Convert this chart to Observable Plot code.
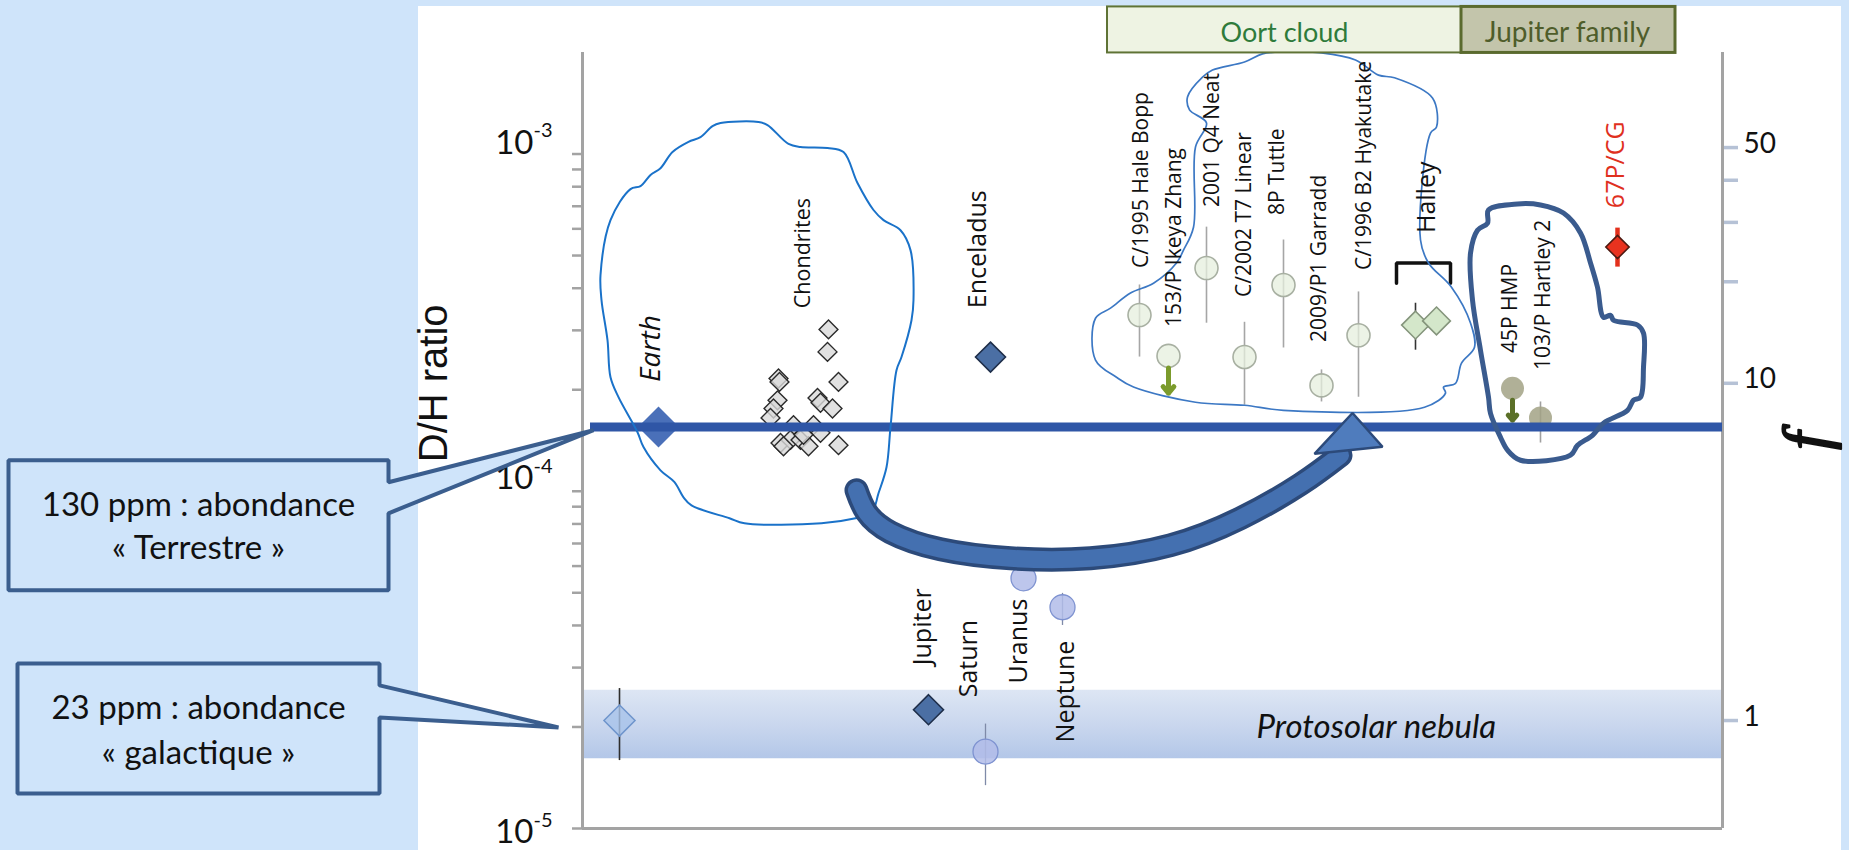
<!DOCTYPE html>
<html><head><meta charset="utf-8">
<script src="https://cdn.jsdelivr.net/npm/d3@7"></script>
<script src="https://cdn.jsdelivr.net/npm/@observablehq/plot@0.6"></script>
<style>
html,body{margin:0;padding:0;background:#cfe4fa;overflow:hidden;}
#chart svg{display:block;max-width:none!important;background:linear-gradient(#fff,#fff) 418px 6px/1423px 850px no-repeat!important;}
</style></head><body><div id="chart"></div>
<script>
// ---------- DATA ----------
// protosolar D/H (f = 1)
const fRef = 2.09e-5;
const earthDH = 1.55e-4;

const objNames = ["Protosolar","Earth","Enceladus","Jupiter","Saturn","Uranus","Neptune",
  "C/1995 Hale Bopp","153/P Ikeya Zhang","2001 Q4 Neat","C/2002 T7 Linear","8P Tuttle",
  "2009/P1 Garradd","C/1996 B2 Hyakutake","Halley a","Halley b","45P HMP","103/P Hartley 2","67P/CG"];
const objX   = [1.85, 3.8, 20.4, 17.3, 20.15, 22.05, 24.0, 27.85, 29.3, 31.2, 33.1, 35.05, 36.95, 38.8, 41.65, 42.7, 46.5, 47.9, 51.75];
const objDH  = [2.09e-5, 1.55e-4, 2.50e-4, 2.25e-5, 1.69e-5, 5.52e-5, 4.53e-5, 3.33e-4, 2.52e-4, 4.59e-4, 2.50e-4, 4.09e-4, 2.06e-4, 2.90e-4, 3.11e-4, 3.20e-4, 2.02e-4, 1.65e-4, 5.30e-4];
const objLow = [1.59e-5, null, null, null, 1.34e-5, null, 4.00e-5, 2.50e-4, null, 3.15e-4, 1.80e-4, 2.66e-4, 1.84e-4, 1.90e-4, 2.62e-4, null, null, 1.39e-4, 4.62e-4];
const objHigh= [2.60e-5, null, null, null, 2.04e-5, null, 4.98e-5, 4.09e-4, null, 6.07e-4, 3.17e-4, 5.56e-4, 2.29e-4, 3.90e-4, 3.61e-4, null, null, 1.84e-4, 6.03e-4];
const objGroup = ["proto","earth","moon","moon","giant","giant","giant","oort","oort","oort","oort","oort","oort","oort","halley","halley","jfc","jfc","rosetta"];

// upper limits (arrows): x, from, to
const limitX    = [29.3, 46.5];
const limitFrom = [2.32e-4, 1.862e-4];
const limitTo   = [1.954e-4, 1.625e-4];
const limitKind = ["oort","jfc"];

// chondrites
const chondX  = [12.3, 12.25, 12.8, 9.8, 9.85, 9.75, 9.55, 9.4, 11.75, 11.9, 12.5, 10.55, 11.55, 9.9, 10.4, 10.9, 11.3, 11.9, 12.8, 11.05, 10.05];
const chondDH = [3.02e-4, 2.59e-4, 2.11e-4, 2.16e-4, 2.11e-4, 1.86e-4, 1.76e-4, 1.65e-4, 1.89e-4, 1.83e-4, 1.76e-4, 1.57e-4, 1.57e-4, 1.39e-4, 1.42e-4, 1.42e-4, 1.36e-4, 1.49e-4, 1.37e-4, 1.47e-4, 1.36e-4];

// protosolar nebula band
const nebulaLow = 1.61e-5, nebulaHigh = 2.57e-5;

// labels (x, D/H at the start of the rotated text)
const labelText = ["Earth","Chondrites","Enceladus","Jupiter","Saturn","Uranus","Neptune","C/1995 Hale Bopp","153/P Ikeya Zhang","2001 Q4 Neat","C/2002 T7 Linear","8P Tuttle","2009/P1 Garradd","C/1996 B2 Hyakutake","Halley","45P HMP","103/P Hartley 2","67P/CG"];
const labelX  = [3.45, 11.05, 19.75, 17.0, 19.3, 21.8, 24.15, 27.95, 29.6, 31.5, 33.1, 34.75, 36.85, 39.1, 42.2, 46.4, 48.05, 51.65];
const labelDH = [2.11e-4, 3.49e-4, 3.49e-4, 3.05e-5, 2.45e-5, 2.69e-5, 1.80e-5, 4.59e-4, 3.07e-4, 6.96e-4, 3.77e-4, 6.59e-4, 2.77e-4, 4.53e-4, 5.83e-4, 2.57e-4, 2.29e-4, 6.91e-4];
const labelKind = ["earth","chond","encel","planet","planet","planet","planet","comet","comet","comet","comet","comet","comet","comet","halley","comet","comet","rosetta"];

// axes
const yTickMant = [1,2,3,4,5,6,7,8,9];
const yTickDecades = [-5,-4];
const yLabelBase = "10";
const yLabelExp = ["-5","-4","-3"];
const yLabelDH = [0.973e-5, 1.093e-4, 1.078e-3];
const fTicks = [1, 10, 20, 30, 40, 50];
const fTickLabels = ["1","10","","","","50"];

// family boxes
const familyName = ["Oort cloud","Jupiter family"];
const familyX1 = [26.25, 43.95];
const familyX2 = [43.95, 54.65];
const familyLow = 1.994e-3, familyHigh = 2.73e-3, familyTextDH = 2.286e-3;
const familyTextX = [35.1, 49.25];

// hand-drawn outlines: [x, log10(D/H)]
const loopEarth = [[0.95,-3.433],[0.9,-3.359],[1.4,-3.196],[2.4,-3.104],[2.9,-3.095],[3.4,-3.062],[3.9,-3.042],[4.5,-2.994],[5.3,-2.964],[5.9,-2.950],[6.5,-2.917],[6.9,-2.908],[8.8,-2.905],[9.25,-2.914],[10.3,-2.970],[10.9,-2.979],[12.25,-2.982],[13.05,-2.994],[13.75,-3.086],[14.55,-3.166],[15.05,-3.196],[15.9,-3.226],[16.4,-3.285],[16.55,-3.433],[16.45,-3.493],[15.95,-3.602],[15.7,-3.641],[15.4,-3.810],[15.2,-3.929],[14.8,-4.006],[14.45,-4.065],[13.65,-4.080],[11.95,-4.095],[8.1,-4.095],[7.35,-4.080],[5.45,-4.042],[5.05,-4.018],[4.6,-3.973],[3.9,-3.938],[3.05,-3.869],[2.75,-3.825],[1.8,-3.721],[1.4,-3.662],[1.25,-3.552]];
const loopOort = [[30.25,-2.831],[31.0,-2.772],[31.5,-2.751],[33.1,-2.727],[34.0,-2.703],[35.05,-2.697],[36.95,-2.700],[38.65,-2.721],[39.8,-2.766],[40.6,-2.774],[42.5,-2.834],[42.7,-2.920],[42.4,-2.938],[41.9,-3.255],[42.3,-3.323],[43.45,-3.395],[44.4,-3.501],[44.6,-3.573],[43.95,-3.620],[43.65,-3.680],[43.05,-3.691],[43.15,-3.709],[42.1,-3.751],[35.05,-3.760],[33.1,-3.745],[30.65,-3.736],[27.55,-3.691],[26.7,-3.662],[25.65,-3.611],[25.65,-3.487],[26.4,-3.457],[27.4,-3.412],[28.55,-3.383],[29.7,-3.323],[30.05,-3.285],[30.55,-3.217],[30.65,-2.979],[31.2,-2.908],[30.35,-2.869]];
const loopJF = [[45.3,-3.166],[46.75,-3.148],[47.9,-3.151],[49.05,-3.175],[49.9,-3.234],[50.4,-3.323],[50.75,-3.395],[51.05,-3.484],[51.4,-3.478],[51.55,-3.493],[52.75,-3.507],[53.05,-3.531],[53.05,-3.632],[52.9,-3.721],[52.55,-3.730],[52.25,-3.760],[51.05,-3.798],[50.5,-3.834],[49.75,-3.864],[49.4,-3.893],[46.9,-3.908],[46.25,-3.878],[45.9,-3.840],[45.4,-3.769],[45.3,-3.721],[44.9,-3.582],[44.5,-3.433],[44.4,-3.294],[44.75,-3.226],[45.25,-3.205]];
const arrowShaft = [[13.7,-3.997],[14.2,-4.0623],[15.4,-4.1217],[17.9,-4.1721],[21.4,-4.1988],[25.4,-4.1988],[29.4,-4.1602],[32.9,-4.0801],[35.9,-3.9792],[37.9,-3.8932]];
const arrowHead = [[36.6,-3.889],[38.5,-3.768],[40.0,-3.868]];

// callouts
const calloutText = [["130 ppm : abondance","« Terrestre »"],["23 ppm : abondance","« galactique »"]];
const calloutShape = [
  [[-28.7,-3.908],[-9.7,-3.908],[-9.7,-3.9733],[0.55,-3.819],[-9.7,-4.0653],[-9.7,-4.2938],[-28.7,-4.2938]],
  [[-28.25,-4.5104],[-10.15,-4.5104],[-10.15,-4.5757],[-1.2,-4.7003],[-10.15,-4.6706],[-10.15,-4.8961],[-28.25,-4.8961]]
];
const calloutTextX = [-19.2, -19.2];
const calloutTextE = [[-4.0415,-4.1691],[-4.6439,-4.7774]];

// ---------- STYLES ----------
const groupStyle = {
  proto:  {symbol:"diamond2", r:14,  fill:"#a7c3ea", fillOpacity:0.8, stroke:"#6f95cc", strokeWidth:1.5, bar:"#2e2e2e", barW:1.6},
  earth:  {symbol:"diamond2", r:18.5,fill:"#4a70b9", fillOpacity:1, stroke:"none", strokeWidth:0},
  moon:   {symbol:"diamond2", r:13.5,fill:"#4b6fa4", fillOpacity:1, stroke:"#1e2e4a", strokeWidth:1.6},
  giant:  {symbol:"circle",   r:12.5,fill:"#b1bce9", fillOpacity:0.85, stroke:"#7e92d0", strokeWidth:1.3, bar:"#7f8aa8", barW:1.3},
  oort:   {symbol:"circle",   r:11.5,fill:"#e6efdd", fillOpacity:0.75, stroke:"#a8b0a2", strokeWidth:1.6, bar:"#a6a6a6", barW:1.6},
  halley: {symbol:"diamond2", r:12.5,fill:"#d4e7ca", fillOpacity:1, stroke:"#85957c", strokeWidth:1.6, bar:"#333333", barW:1.6},
  jfc:    {symbol:"circle",   r:11.5,fill:"#a2a285", fillOpacity:0.85, stroke:"none", strokeWidth:0, bar:"#a0a0a0", barW:1.6},
  rosetta:{symbol:"diamond2", r:10.5,fill:"#e8321f", fillOpacity:1, stroke:"#4d1a12", strokeWidth:1.6, bar:"#e3301c", barW:4.5}
};
const limitColor = {oort:"#7b9b2c", jfc:"#5b7028"};
const labelStyle = {
  earth:  {fontSize:28, fontStyle:"italic"},
  chond:  {fontSize:21.5},
  encel:  {fontSize:25},
  planet: {fontSize:25},
  comet:  {fontSize:21},
  halley: {fontSize:25},
  rosetta:{fontSize:25, fill:"#e0301e"}
};

// ---------- BUILD ----------
const objects = objNames.map((name, i) => ({name, x: objX[i], dh: objDH[i], lo: objLow[i], hi: objHigh[i], group: objGroup[i]}));
const chondrites = chondX.map((x, i) => ({x, dh: chondDH[i]}));
const labels = labelText.map((text, i) => ({text, x: labelX[i], dh: labelDH[i], kind: labelKind[i]}));
const limits = limitX.map((x, i) => ({x, y1: limitFrom[i], y2: limitTo[i], kind: limitKind[i]}));
const toPts = arr => arr.map(([x, e]) => ({x, dh: 10 ** e}));
const yTicks = yTickDecades.flatMap(e => yTickMant.map(m => m * 10 ** e)).concat([1e-3]);
const families = familyName.map((name, i) => ({name, x1: familyX1[i], x2: familyX2[i], tx: familyTextX[i]}));

const marks = [];
// nebula band
marks.push(Plot.rect([{x1: 0, x2: 57}], {x1: "x1", x2: "x2", y1: () => nebulaLow, y2: () => nebulaHigh, fill: "url(#nebGrad)"}));
marks.push(Plot.text([{x: 33.7, dh: 2.0e-5}], {x: "x", y: "dh", text: () => "Protosolar nebula", textAnchor: "start", fontSize: 33, fontStyle: "italic", fontFamily: "Lato, sans-serif", fill: "#111"}));
// frame
marks.push(Plot.axisY(yTicks, {anchor: "left", tickSize: 10, tickFormat: () => "", stroke: "#a3a3a3", strokeWidth: 2.5}));
marks.push(Plot.axisY(fTicks.map(f => f * fRef), {anchor: "right", tickSize: 15, tickFormat: () => "", stroke: "#b6c2d6", strokeWidth: 3.5}));
marks.push(Plot.ruleX([0, 57], {stroke: "#a3a3a3", strokeWidth: 3}));
marks.push(Plot.ruleY([1e-5], {stroke: "#a3a3a3", strokeWidth: 3}));
// tick labels
marks.push(Plot.text(yLabelDH, {x: () => -2.45, y: d => d, text: () => yLabelBase, textAnchor: "end", fontSize: 33, fontFamily: "Lato, sans-serif", fill: "#111"}));
marks.push(Plot.text(yLabelDH, {x: () => -2.45, y: d => d, text: (d, i) => yLabelExp[i], textAnchor: "start", dy: -12, fontSize: 20, fontFamily: "Lato, sans-serif", fill: "#111"}));
marks.push(Plot.text(fTicks, {x: () => 58.05, y: f => f * fRef, text: (d, i) => fTickLabels[i], textAnchor: "start", dy: -4, fontSize: 28, fontFamily: "Lato, sans-serif", fill: "#111"}));
// axis titles
marks.push(Plot.text([{x: -7.4, dh: 2.09e-4}], {x: "x", y: "dh", text: () => "D/H ratio", rotate: -90, fontSize: 40, fontFamily: "'Liberation Sans', Arial, sans-serif", fill: "#111"}));
marks.push(Plot.text([{x: 61.2, dh: 1.41e-4}], {x: "x", y: "dh", text: () => "f", rotate: -90, fontSize: 64, fontStyle: "italic", fontFamily: "'Liberation Serif', serif", fill: "#111", stroke: "#111", strokeWidth: 2.2}));
// error bars
for (const [g, s] of Object.entries(groupStyle)) {
  const d = objects.filter(o => o.group === g && o.lo != null);
  if (d.length) marks.push(Plot.ruleX(d, {x: "x", y1: "lo", y2: "hi", stroke: s.bar, strokeWidth: s.barW}));
}
// chondrites
marks.push(Plot.dot(chondrites, {x: "x", y: "dh", symbol: "diamond2", r: 8.5, fill: "#d9d9d9", fillOpacity: 0.8, stroke: "#2a2a2a", strokeWidth: 1.4}));
// objects
for (const [g, s] of Object.entries(groupStyle)) {
  marks.push(Plot.dot(objects.filter(o => o.group === g), {x: "x", y: "dh", symbol: s.symbol, r: s.r, fill: s.fill, fillOpacity: s.fillOpacity, stroke: s.stroke, strokeWidth: s.strokeWidth}));
}
// upper limits
for (const k of Object.keys(limitColor)) {
  marks.push(Plot.arrow(limits.filter(l => l.kind === k), {x: "x", y1: "y1", y2: "y2", stroke: limitColor[k], strokeWidth: 5, headLength: 11, headAngle: 80}));
}
// Halley bracket
marks.push(Plot.line([{x: 40.7, dh: 4.14e-4}, {x: 40.7, dh: 4.75e-4}, {x: 43.4, dh: 4.75e-4}, {x: 43.4, dh: 4.14e-4}], {x: "x", y: "dh", stroke: "#111", strokeWidth: 3.5, strokeLinejoin: "miter"}));
// terrestrial line
marks.push(Plot.ruleY([earthDH], {x1: 0.4, x2: 57, stroke: "#2f56a6", strokeWidth: 9}));
// outlines
marks.push(Plot.line(toPts(loopEarth), {x: "x", y: "dh", curve: "catmull-rom-closed", stroke: "#1a72c9", strokeWidth: 2}));
marks.push(Plot.line(toPts(loopOort), {x: "x", y: "dh", curve: "catmull-rom-closed", stroke: "#3c78c4", strokeWidth: 1.7}));
marks.push(Plot.line(toPts(loopJF), {x: "x", y: "dh", curve: "catmull-rom-closed", stroke: "#3a5b8e", strokeWidth: 5}));
// big arrow
marks.push(Plot.line(toPts(arrowShaft), {x: "x", y: "dh", curve: "natural", stroke: "#2c4a7a", strokeWidth: 24}));
marks.push(Plot.line(toPts(arrowShaft), {x: "x", y: "dh", curve: "natural", stroke: "#4470b0", strokeWidth: 17}));
marks.push(Plot.line(toPts(arrowHead), {x: "x", y: "dh", curve: "linear-closed", fill: "#4f7cbd", stroke: "#2c4a7a", strokeWidth: 2.5, strokeLinejoin: "miter"}));
// labels
for (const [k, s] of Object.entries(labelStyle)) {
  marks.push(Plot.text(labels.filter(l => l.kind === k), {x: "x", y: "dh", text: "text", rotate: -90, textAnchor: "start", fontFamily: "'Open Sans', sans-serif", fill: "#111", ...s}));
}
// family boxes
marks.push(Plot.rect(families.slice(0, 1), {x1: "x1", x2: "x2", y1: () => familyLow, y2: () => familyHigh, fill: "#eef3e3", stroke: "#5f7335", strokeWidth: 2}));
marks.push(Plot.rect(families.slice(1), {x1: "x1", x2: "x2", y1: () => familyLow, y2: () => familyHigh, fill: "#c3c5ab", stroke: "#5a6a2e", strokeWidth: 3}));
marks.push(Plot.text(families.slice(0, 1), {x: "tx", y: () => familyTextDH, text: "name", fontSize: 27, fontFamily: "Lato, sans-serif", fill: "#2e7b3b"}));
marks.push(Plot.text(families.slice(1), {x: "tx", y: () => familyTextDH, text: "name", fontSize: 28, fontFamily: "Lato, sans-serif", fill: "#4f5d2a"}));
// callouts
calloutShape.forEach((shape, i) => {
  marks.push(Plot.line(toPts(shape), {x: "x", y: "dh", curve: "linear-closed", fill: "#cfe4fa", stroke: "#3b5e8e", strokeWidth: 4, strokeLinejoin: "miter"}));
  marks.push(Plot.text(calloutText[i].map((t, j) => ({t, x: calloutTextX[i], dh: 10 ** calloutTextE[i][j]})), {x: "x", y: "dh", text: "t", fontSize: 33, fontFamily: "Lato, sans-serif", fill: "#111"}));
});

const chart = Plot.plot({
  width: 1849, height: 850,
  marginLeft: 582, marginRight: 127, marginTop: 52, marginBottom: 22,
  x: {domain: [0, 57], axis: null},
  y: {type: "log", domain: [1e-5, 2e-3], axis: null},
  style: {fontFamily: "Lato, sans-serif", overflow: "visible"},
  marks
});
const defs = document.createElementNS("http://www.w3.org/2000/svg", "defs");
defs.innerHTML = '<linearGradient id="nebGrad" x1="0" y1="0" x2="0" y2="1"><stop offset="0" stop-color="#dde6f4"/><stop offset="0.5" stop-color="#cad7ee"/><stop offset="1" stop-color="#b3c7e8"/></linearGradient>';
chart.prepend(defs);
document.getElementById("chart").appendChild(chart);
</script></body></html>
